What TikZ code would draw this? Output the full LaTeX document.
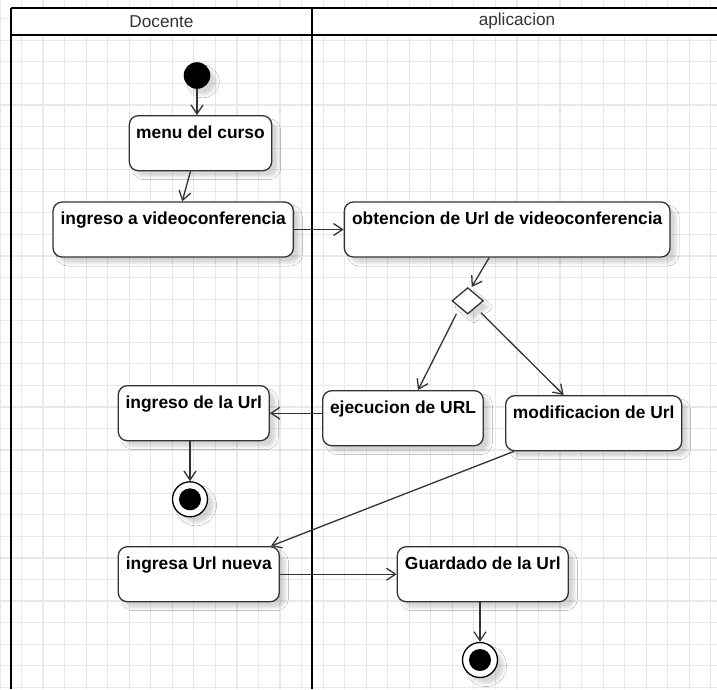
\documentclass[tikz,border=0pt]{standalone}
\usepackage{fontspec}
\setmainfont{Liberation Sans}
\usetikzlibrary{arrows.meta,shapes.geometric,shadows.blur}
\definecolor{gridgray}{HTML}{E8E8E8}
\definecolor{ink}{HTML}{333333}
\tikzset{
  gridline/.style={draw=gridgray, line width=1.2pt},
  laneline/.style={draw=black, line width=2.5pt},
  lanehead/.style={font=\fontsize{17.2}{20}\selectfont, text=ink, inner sep=0pt},
  softshadow/.style={blur shadow={shadow xshift=6pt, shadow yshift=-6pt,
      shadow blur radius=3pt, shadow opacity=16}},
  act/.style={draw=ink, line width=1.3pt, fill=white, rounded corners=9pt,
      inner xsep=0pt, inner ysep=0pt, text height=22.5pt, text depth=32.5pt,
      font=\fontsize{17.4}{20}\selectfont\bfseries, text=black, softshadow},
  initial/.style={circle, fill=black, minimum size=26.6pt, inner sep=0pt, softshadow},
  final/.style={circle, draw=black, line width=1.3pt, fill=white, minimum size=35pt,
      inner sep=0pt, softshadow,
      path picture={\fill[black] (path picture bounding box.center) circle (11pt);}},
  decision/.style={diamond, draw=ink, line width=1.3pt, fill=white, inner sep=0pt,
      minimum width=31.4pt, minimum height=26.4pt, softshadow},
  flow/.style={draw=ink, line width=1.3pt,
      -{Straight Barb[length=9pt,width=12pt]}},
}
\begin{document}
\begin{tikzpicture}[x=1pt, y=-1pt]
  \useasboundingbox (0,0) rectangle (717,689);
  \fill[white] (0,0) rectangle (717,689);

  % background grid
  \begin{scope}
    \clip (0,0) rectangle (717,689);
    \foreach \i in {0,...,33}
      \draw[gridline] (\i*21.54,0) -- (\i*21.54,689);
    \foreach \j in {-5,...,27}
      \draw[gridline] (0,105+\j*21.567) -- (717,105+\j*21.567);
  \end{scope}

  % swimlanes
  \fill[white] (11,8) rectangle (730,35);
  \draw[laneline] (11,8) -- (730,8);
  \draw[laneline] (11,35) -- (730,35);
  \draw[laneline] (11,8) -- (11,689);
  \draw[laneline] (312,8) -- (312,689);
  \node[lanehead] (docente) at (161.5,21.5) {Docente};
  \node[lanehead] (app) at (517,21.5) {aplicacion};

  % activities
  \node[initial] (start) at (197,75.5) {};
  \node[act, minimum width=142.4pt] (menu) at (200.5,143.2) {menu del curso};
  \node[act, minimum width=240.3pt] (ingv) at (173.2,229.5) {ingreso a videoconferencia};
  \node[act, minimum width=325.7pt] (obt) at (507.2,229.5) {obtencion de Url de videoconferencia};
  \node[decision] (dec) at (467.7,300.8) {};
  \node[act, minimum width=160.6pt] (ejec) at (403,418.2) {ejecucion de URL};
  \node[act, minimum width=176pt] (modif) at (593.7,423.2) {modificacion de Url};
  \node[act, minimum width=151pt] (iurl) at (193.8,413.2) {ingreso de la Url};
  \node[final] (end1) at (190,499.3) {};
  \node[act, minimum width=161pt] (nueva) at (198.8,574.2) {ingresa Url nueva};
  \node[act, minimum width=171pt] (guard) at (482.8,574.2) {Guardado de la Url};
  \node[final] (end2) at (480,660) {};

  % control flow
  \draw[flow] (start.south) -- (start.south |- menu.north);
  \draw[flow] ([xshift=-10pt]menu.south) -- ([xshift=9pt]ingv.north);
  \draw[flow] (ingv.east) -- (obt.west);
  \draw[flow] ([xshift=-18pt]obt.south) -- ([xshift=4pt]dec.north);
  \draw[flow, shorten <=7pt] (dec.south west) -- ([xshift=15pt]ejec.north);
  \draw[flow, shorten <=7pt] (dec.south east) -- ([xshift=-30pt]modif.north);
  \draw[flow] (iurl.east -| ejec.west) -- (iurl.east);
  \draw[flow] (iurl.south -| end1) -- (end1.north);
  \draw[flow] ([xshift=9pt]modif.south west) -- ([xshift=-9pt]nueva.north east);
  \draw[flow] (nueva.east) -- (guard.west);
  \draw[flow] (guard.south -| end2) -- (end2.north);
\end{tikzpicture}
\end{document}
